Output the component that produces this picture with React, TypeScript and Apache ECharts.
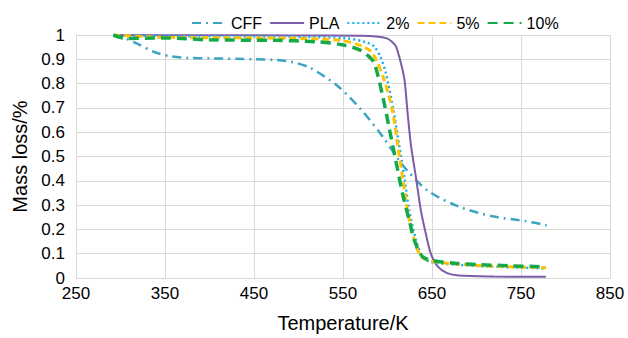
import React, { useEffect, useRef } from "react";
import * as echarts from "echarts";

const xTicks = [250, 350, 450, 550, 650, 750, 850];
const yTicks = [0, 0.1, 0.2, 0.3, 0.4, 0.5, 0.6, 0.7, 0.8, 0.9, 1];

const cffT = [292, 306, 320, 338, 357, 375, 400, 450, 475, 494, 513, 544, 571, 595, 611, 621, 645, 680, 718, 755, 779];
const cffY = [1.0, 0.985, 0.962, 0.93, 0.912, 0.906, 0.904, 0.9, 0.897, 0.888, 0.865, 0.79, 0.69, 0.58, 0.494, 0.447, 0.36, 0.294, 0.254, 0.234, 0.217];

const plaT = [292, 400, 500, 570, 590, 600, 605, 609.5, 615, 619, 622.5, 626.3, 632, 637.5, 643, 648.7, 656, 667, 680, 720, 778];
const plaY = [1.0, 0.999, 0.998, 0.997, 0.993, 0.985, 0.972, 0.953, 0.885, 0.818, 0.683, 0.548, 0.413, 0.278, 0.183, 0.1, 0.049, 0.02, 0.01, 0.006, 0.005];

const p2T = [292, 350, 450, 500, 553, 576, 585, 592, 598, 607, 613, 619, 624.4, 632, 639, 647, 660, 680, 703, 740, 778];
const p2Y = [1.0, 0.996, 0.994, 0.992, 0.987, 0.97, 0.953, 0.91, 0.845, 0.683, 0.548, 0.413, 0.278, 0.157, 0.089, 0.068, 0.06, 0.054, 0.049, 0.044, 0.039];

const p5T = [292, 350, 450, 500, 549, 572, 583, 596, 605.8, 611.4, 617, 622.5, 630, 637.5, 646, 660, 680, 703, 740, 778];
const p5Y = [1.0, 0.99, 0.988, 0.986, 0.977, 0.953, 0.926, 0.818, 0.683, 0.548, 0.413, 0.278, 0.157, 0.089, 0.072, 0.063, 0.057, 0.051, 0.046, 0.042];

const p10T = [292, 306, 351, 400, 475, 520, 549, 568, 578, 585, 594.5, 602, 609.5, 617, 624.4, 630, 639, 650, 675, 703, 740, 778];
const p10Y = [1.0, 0.986, 0.988, 0.98, 0.978, 0.972, 0.96, 0.94, 0.915, 0.885, 0.75, 0.615, 0.48, 0.345, 0.238, 0.157, 0.089, 0.072, 0.061, 0.055, 0.05, 0.046];

const pairs = (t: number[], y: number[]) => t.map((v, i) => [v, y[i]]);

export default function App() {
  const ref = useRef<HTMLDivElement>(null);
  useEffect(() => {
    document.body.style.margin = "0";
    if (!ref.current) return;
    const chart = echarts.init(ref.current, undefined, { renderer: "svg" });
    const font = "Helvetica, Arial, 'Liberation Sans', sans-serif";
    const mk = (name: string, t: number[], y: number[], color: string, type: any, width: number) => ({
      name,
      type: "line",
      data: pairs(t, y),
      smooth: 0.3,
      showSymbol: false,
      symbol: "none",
      lineStyle: { color, type, width },
      itemStyle: { color },
    });
    chart.setOption({
      animation: false,
      textStyle: { fontFamily: font },
      legend: {
        top: 10,
        left: 186,
        itemWidth: 34,
        itemHeight: 12,
        itemGap: 7,
        itemStyle: { opacity: 0 },
        textStyle: { fontSize: 16, color: "#000", fontFamily: font },
        data: ["CFF", "PLA", "2%", "5%", "10%"],
      },
      grid: { left: 76, right: 18, top: 35, bottom: 56 },
      xAxis: {
        type: "value",
        min: xTicks[0],
        max: xTicks[xTicks.length - 1],
        interval: 100,
        name: "Temperature/K",
        nameLocation: "middle",
        nameGap: 35,
        nameTextStyle: { fontSize: 20, color: "#000", fontFamily: font },
        axisLine: { show: true, lineStyle: { color: "#d9d9d9" } },
        axisTick: { show: false },
        axisLabel: { fontSize: 17, color: "#000", margin: 7, fontFamily: font },
        splitLine: { show: true, lineStyle: { color: "#d9d9d9", width: 1 } },
      },
      yAxis: {
        type: "value",
        min: yTicks[0],
        max: yTicks[yTicks.length - 1],
        interval: 0.1,
        name: "Mass loss/%",
        nameLocation: "middle",
        nameGap: 43,
        nameTextStyle: { fontSize: 20, color: "#000", fontFamily: font },
        axisLine: { show: true, lineStyle: { color: "#d9d9d9" } },
        axisTick: { show: false },
        axisLabel: { fontSize: 17, color: "#000", margin: 11, fontFamily: font },
        splitLine: { show: true, lineStyle: { color: "#d9d9d9", width: 1 } },
      },
      series: [
        mk("CFF", cffT, cffY, "#3da5c4", [9, 5, 2, 5], 2.5),
        mk("PLA", plaT, plaY, "#7d5ca8", "solid", 2),
        mk("2%", p2T, p2Y, "#19aef0", [2, 3], 2.5),
        mk("5%", p5T, p5Y, "#ffc000", [7, 4], 3),
        mk("10%", p10T, p10Y, "#14aa4a", [10, 6], 3.5),
      ],
    });
    return () => chart.dispose();
  }, []);
  return <div ref={ref} style={{ width: 628, height: 338 }} />;
}
